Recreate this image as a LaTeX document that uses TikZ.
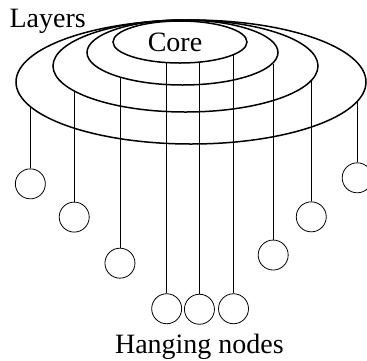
\documentclass[tikz,border=0pt]{standalone}
\usepackage{fontspec}
\setmainfont{Liberation Serif}
\usetikzlibrary{shapes.geometric,positioning}

\begin{document}
\begin{tikzpicture}[x=1pt, y=1pt, font=\fontsize{28}{32}\selectfont, layer/.style={ellipse, draw=black, line width=1.5pt, inner sep=0pt}, hang/.style={circle, draw=black, line width=0.8pt, minimum size=30pt, inner sep=0pt}, wire/.style={line width=0.8pt}]
\useasboundingbox (0,0) rectangle (367,-360);
\node[layer, minimum width=350pt, minimum height=124pt] (L4) at (191,-82) {};
\node[layer, minimum width=265pt, minimum height=92pt] (L3) at (185.5,-66) {};
\node[layer, minimum width=191pt, minimum height=65pt] (L2) at (182.5,-52.5) {};
\node[layer, minimum width=134pt, minimum height=42pt, label={[xshift=-5pt]center:Core}] (core) at (180,-42) {};
\node[anchor=base west] (layers) at (6,-27) {Layers};
% hanging nodes
\node[hang, below=61pt of L4.-171] (h1) {};
\node[hang, below=110pt of L3.-167] (h2) {};
\node[hang, below=170pt of L2.-158] (h3) {};
\node[hang, below=230pt of core.-122] (h4) {};
\node[hang, below=231pt of core.-47] (h5) {};
\node[hang, below=238pt of core.-14] (h6) {};
\node[hang, below=176pt of L2.-7] (h7) {};
\node[hang, below=120pt of L3.-7] (h8) {};
\node[hang, below=60pt of L4.-7] (h9) {};
\node[below=6pt of h5] (caption) {Hanging nodes};
\draw[wire] (L4.-171) -- (h1);
\draw[wire] (L3.-167) -- (h2);
\draw[wire] (L2.-158) -- (h3);
\draw[wire] (core.-122) -- (h4);
\draw[wire] (core.-47) -- (h5);
\draw[wire] (core.-14) -- (h6);
\draw[wire] (L2.-7) -- (h7);
\draw[wire] (L3.-7) -- (h8);
\draw[wire] (L4.-7) -- (h9);
\end{tikzpicture}
\end{document}
